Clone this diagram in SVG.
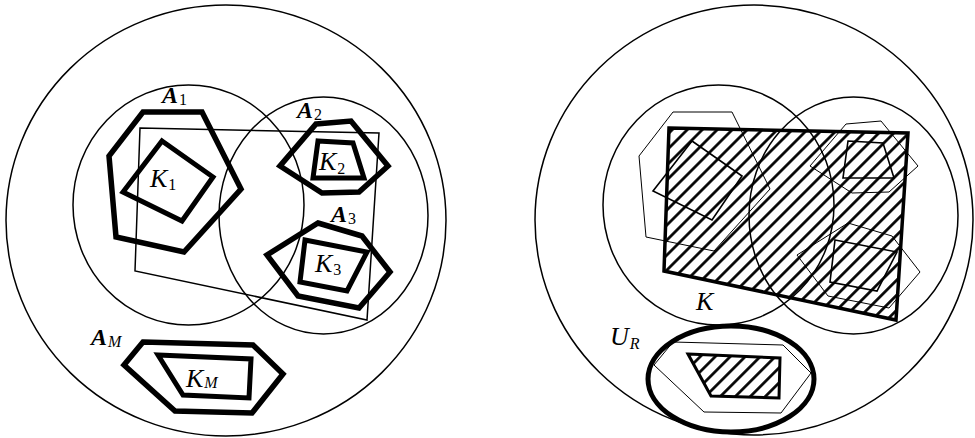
<svg xmlns="http://www.w3.org/2000/svg" width="975" height="438" viewBox="0 0 975 438">
<style>
.bg{fill:#fff}
.thin{fill:none;stroke:#000;stroke-width:1.5}
.hair{fill:none;stroke:#000;stroke-width:1}
.kthin{fill:none;stroke:#000;stroke-width:1.6;stroke-linejoin:miter}
.athick{fill:none;stroke:#000;stroke-width:5.5;stroke-linejoin:miter}
.kthick{fill:none;stroke:#000;stroke-width:5;stroke-linejoin:miter}
.hatch{fill:url(#hatch);stroke:#000;stroke-width:3.5;stroke-linejoin:miter}
.hatch2{fill:url(#hatch);stroke:#000;stroke-width:3;stroke-linejoin:miter}
.ur{fill:none;stroke:#000;stroke-width:5}
text{font-family:"Liberation Serif","DejaVu Serif",serif;font-style:italic;fill:#000}
.lab{font-size:26px}
.blab{font-size:24px;font-weight:bold}
.sub{font-size:16px;font-weight:normal}
.num{font-style:normal}
</style>
<defs>
<pattern id="hatch" patternUnits="userSpaceOnUse" width="10.6" height="10" patternTransform="rotate(45)">
<line x1="5.3" y1="-1" x2="5.3" y2="11" stroke="#000" stroke-width="2.7"/>
</pattern>
</defs>
<rect class="bg" x="0" y="0" width="975" height="438"/>

<g id="left">
<g id="outer-left"><ellipse class="thin" cx="226" cy="220.5" rx="220" ry="215.5"/></g>
<g id="ball-1"><ellipse class="thin" cx="188.5" cy="205" rx="115.5" ry="120"/></g>
<g id="ball-2"><ellipse class="thin" cx="323.5" cy="215.5" rx="104.5" ry="118.5"/></g>
<g id="region"><polygon class="thin" points="140,128 379,133 367,320 135,271"/></g>
<g id="A1">
<polygon class="athick" points="143,112 202,112 241,189 184,252 116,237 109,156"/>
<text class="blab" x="162" y="103">A<tspan class="sub num" dx="1" dy="2">1</tspan></text>
</g>
<g id="K1">
<polygon class="kthick" points="162,141 213,177 182,221 123,192"/>
<text class="lab" x="150" y="187">K<tspan class="sub num" dx="1" dy="3">1</tspan></text>
</g>
<g id="A2">
<polygon class="athick" points="316,124 351,121 388,166 359,192 322,193 280,166"/>
<text class="blab" x="297" y="118">A<tspan class="sub num" dx="1" dy="2">2</tspan></text>
</g>
<g id="K2">
<polygon class="kthick" points="318,141 353,143 364,178 313,178"/>
<text class="lab" x="319" y="170">K<tspan class="sub num" dx="1" dy="4">2</tspan></text>
</g>
<g id="A3">
<polygon class="athick" points="318,223 362,236 390,272 359,308 298,296 267,255"/>
<text class="blab" x="331" y="222">A<tspan class="sub num" dx="1" dy="2">3</tspan></text>
</g>
<g id="K3">
<polygon class="kthick" points="305,240 367,252 347,291 300,282"/>
<text class="lab" x="315" y="272">K<tspan class="sub num" dx="1" dy="3">3</tspan></text>
</g>
<g id="AM">
<polygon class="athick" points="143,342 253,345 283,374 252,413 175,411 124,365"/>
<text class="blab" x="91" y="345">A<tspan class="sub" dx="1" dy="2">M</tspan></text>
</g>
<g id="KM">
<polygon class="kthick" points="158,355 251,359 249,398 183,395"/>
<text class="lab" x="186" y="387">K<tspan class="sub" dx="1" dy="1">M</tspan></text>
</g>
</g>

<g id="right">
<g id="outer-right"><ellipse class="thin" cx="754" cy="220" rx="219" ry="215"/></g>
<g id="ball-1r"><ellipse class="thin" cx="718.5" cy="205" rx="115.5" ry="120"/></g>
<g id="ball-2r"><ellipse class="thin" cx="853.5" cy="215.5" rx="104.5" ry="118.5"/></g>
<g id="K">
<polygon class="hatch" points="669,128 908,133 896,320 664,271"/>
<text class="lab" x="696" y="310">K</text>
</g>
<g id="A1r"><polygon class="hair" points="673,112 732,112 770,189 714,251 646,237 639,156"/></g>
<g id="K1r"><polygon class="kthin" points="692,141 742,176 712,220 653,191"/></g>
<g id="A2r"><polygon class="hair" points="846,124 881,121 918,166 889,192 852,193 810,166"/></g>
<g id="K2r"><polygon class="kthin" points="848,141 883,143 894,178 843,178"/></g>
<g id="A3r"><polygon class="hair" points="848,223 892,236 920,272 889,308 828,296 797,255"/></g>
<g id="K3r"><polygon class="kthin" points="835,240 897,252 877,291 830,282"/></g>
<g id="UR">
<polygon class="hair" points="673,342 783,345 811,373 781,413 704,412 654,365"/>
<polygon class="hatch2" points="688,354 780,358 779,398 711,396"/>
<ellipse class="ur" cx="731" cy="379" rx="83" ry="53"/>
<text class="lab" x="610" y="345">U<tspan class="sub" dx="1" dy="4">R</tspan></text>
</g>
</g>
<g id="connectors"/>
</svg>
